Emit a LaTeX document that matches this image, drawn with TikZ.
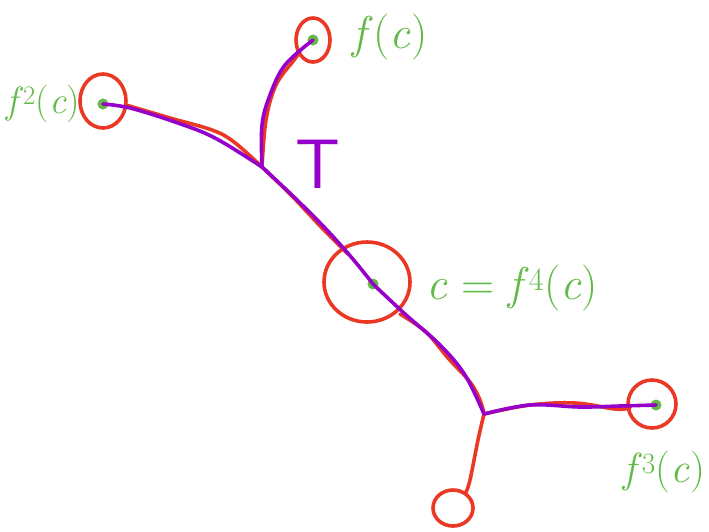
\documentclass[tikz,border=0pt]{standalone}
\usepackage{fontspec}
\usetikzlibrary{positioning}

\definecolor{handgreen}{RGB}{98,186,70}
\definecolor{handred}{RGB}{234,56,36}
\definecolor{handpurple}{RGB}{150,0,200}

\tikzset{
    redline/.style={handred, line width=3.6pt, line cap=round, line join=round},
    purpleline/.style={handpurple, line width=3.6pt, line cap=round, line join=round},
    orbitpt/.style={circle, fill=handgreen, inner sep=0pt, minimum size=11pt},
    greenlab/.style={text=handgreen, font=\fontsize{46}{50}\selectfont},
}
\newcommand{\fit}[1]{\textit{f}\textsuperscript{#1}(\textit{c})}

\begin{document}
\begin{tikzpicture}[x=1pt, y=-1pt]

\useasboundingbox (0,0) rectangle (709,531);

% orbit points
\node[orbitpt] (fc) at (313,40) {};
\node[orbitpt] (ffc) at (103,104) {};
\node[orbitpt] (c) at (373,284) {};
\node[orbitpt] (fffc) at (656,405) {};
\coordinate (J) at (262,167);
\coordinate (B) at (484,414);
\coordinate (low) at (453,508);

% red circles round the points
\draw[redline] (313,40) ellipse (17 and 22);
\draw[redline] (103,101) ellipse (23 and 27);
\draw[redline] (367,282) ellipse (43 and 40);
\draw[redline] (652,404) ellipse (24 and 24);
\draw[redline] (low) ellipse (20 and 18);

% red tree
\draw[redline] plot[smooth, tension=.6] coordinates {(126,105) (170,118) (212,130) (234,142) (J)};
\draw[redline] plot[smooth, tension=.6] coordinates {(J) (266,120) (276,85) (294,60) (300,52)};
\draw[redline] plot[smooth, tension=.6] coordinates {(J) (292,196) (322,228) (348,254)};
\draw[redline] plot[smooth, tension=.6] coordinates {(400,314) (426,332) (448,358) (470,382) (480,400) (B)};
\draw[redline] plot[smooth, tension=.6] coordinates {(B) (530,405) (575,403) (615,409) (630,408)};
\draw[redline] plot[smooth, tension=.6] coordinates {(B) (478,440) (470,480) (466,492)};

% purple tree
\draw[purpleline] plot[smooth, tension=.6] coordinates {(ffc) (130,108) (175,122) (215,138) (J)};
\draw[purpleline] plot[smooth, tension=.6] coordinates {(J) (262,125) (270,95) (285,65) (fc)};
\draw[purpleline] plot[smooth, tension=.6] coordinates {(J) (295,198) (325,228) (352,258) (c)};
\draw[purpleline] plot[smooth, tension=.6] coordinates {(c) (405,314) (440,345) (465,375) (B)};
\draw[purpleline] plot[smooth, tension=.6] coordinates {(B) (530,405) (580,407) (620,406) (fffc)};

% labels
\node[text=handpurple, font=\sffamily\fontsize{70}{72}\selectfont] (T) at (318,164) {T};
\node[greenlab] (fclab) at (390,37) {\fit{}};
\node[greenlab, font=\fontsize{38}{40}\selectfont, anchor=west, inner sep=0pt] (ffclab) at (6,104) {\fit{2}};
\node[greenlab] (clab) at (512,288) {\textit{c} = \fit{4}};
\node[greenlab, font=\fontsize{42}{44}\selectfont] (fffclab) at (664,472) {\fit{3}};

\end{tikzpicture}
\end{document}
